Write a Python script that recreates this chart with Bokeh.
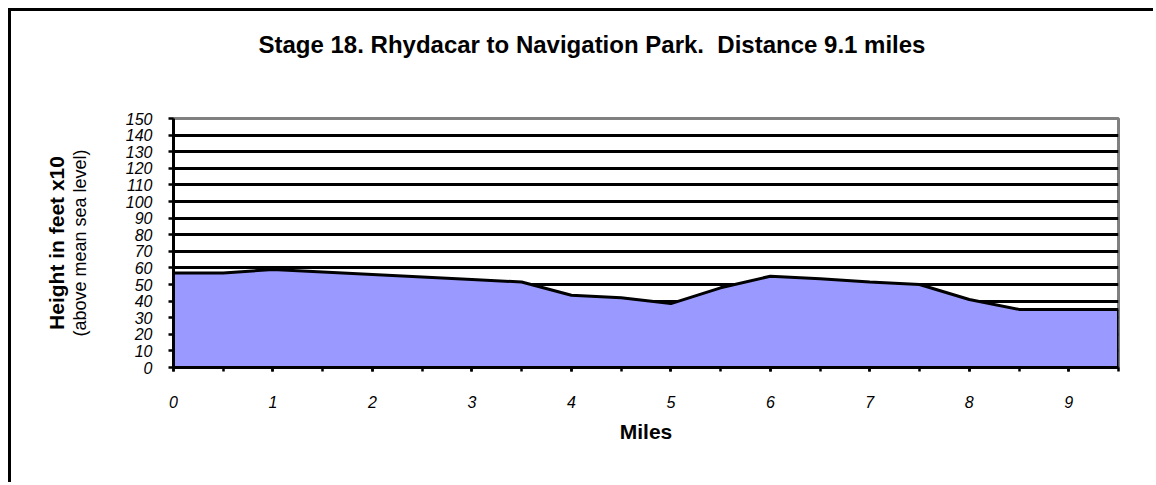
from bokeh.plotting import figure
from bokeh.models import Range1d, FixedTicker, LinearAxis
from bokeh.embed import file_html
from bokeh.resources import INLINE

# ---- data ----
title_text = "Stage 18. Rhydacar to Navigation Park.\u00a0 Distance 9.1 miles"
x_label = "Miles"
y_label_main = "Height in feet x10"
y_label_sub = "(above mean sea level)"

miles = [0, 0.5, 1, 1.5, 2, 2.5, 3, 3.5, 4, 4.5,
         5, 5.5, 6, 6.5, 7, 7.5, 8, 8.5, 9, 9.5]
heights = [57, 57, 59, 57.5, 56, 54.5, 53, 51.5, 43.5, 42,
           38.5, 48, 55, 53.5, 51.5, 50, 41, 35, 35, 35]

x_tick_values = [0, 1, 2, 3, 4, 5, 6, 7, 8, 9]
x_tick_labels = ["0", "1", "2", "3", "4", "5", "6", "7", "8", "9"]
y_tick_values = [0, 10, 20, 30, 40, 50, 60, 70, 80, 90, 100, 110, 120, 130, 140, 150]

FONT = "Liberation Sans"

p = figure(width=1145, height=474,
           x_range=Range1d(miles[0], miles[-1]), y_range=Range1d(y_tick_values[0], y_tick_values[-1]),
           output_backend="svg", toolbar_location=None,
           min_border_left=162, min_border_right=38, min_border_top=107, min_border_bottom=118)
p.styles = {"margin-left": "8px", "margin-top": "8px",
            "border-left": "3px solid black", "border-top": "3px solid black"}
p.background_fill_color = "white"
p.border_fill_color = "white"
p.outline_line_color = "#808080"
p.outline_line_width = 3

xa = p.below[0]
ya = p.left[0]

# spacer between the frame and the title (an invisible axis whose blank label takes room)
spacer = LinearAxis(ticker=FixedTicker(ticks=[]), axis_line_color=None,
                    major_tick_line_color=None, minor_tick_line_color=None,
                    major_tick_in=0, major_tick_out=0, minor_tick_in=0, minor_tick_out=0,
                    major_label_standoff=0,
                    axis_label="\u00a0", axis_label_text_font=FONT,
                    axis_label_text_font_size="47px", axis_label_text_alpha=0,
                    axis_label_standoff=0)
p.add_layout(spacer, "above")

# title
p.title.text = title_text
p.title.align = "left"
p.title.text_font = FONT
p.title.text_font_size = "24px"
p.title.text_font_style = "bold"
p.title.text_color = "black"
p.title.offset = 85
p.title.standoff = 10

# grid
p.xgrid.visible = False
p.ygrid.ticker = FixedTicker(ticks=y_tick_values[1:-1])
p.ygrid.grid_line_color = "black"
p.ygrid.grid_line_width = 3

# area + outline
p.varea(x=miles, y1=0, y2=heights, fill_color="#9999FF")
p.line(miles, heights, line_color="black", line_width=3)
p.segment(x0=[miles[-1]], y0=[0], x1=[miles[-1]], y1=[heights[-1]], line_color="black", line_width=3)

# x axis
xa.ticker = FixedTicker(ticks=x_tick_values, minor_ticks=miles)
xa.major_label_overrides = {v: s for v, s in zip(x_tick_values, x_tick_labels)}
xa.axis_line_color = "black"
xa.axis_line_width = 3
xa.major_tick_in = 0
xa.major_tick_out = 4
xa.minor_tick_in = 0
xa.minor_tick_out = 4
xa.major_tick_line_width = 2.5
xa.minor_tick_line_width = 2.5
xa.major_tick_line_color = "black"
xa.minor_tick_line_color = "black"
xa.major_label_text_font = FONT
xa.major_label_text_font_size = "16px"
xa.major_label_text_font_style = "italic"
xa.major_label_text_color = "black"
xa.major_label_standoff = 24
xa.axis_label = x_label
xa.axis_label_text_font = FONT
xa.axis_label_text_font_size = "21px"
xa.axis_label_text_font_style = "bold"
xa.axis_label_text_color = "black"
xa.axis_label_standoff = 9

# y axis
ya.ticker = FixedTicker(ticks=y_tick_values)
ya.axis_line_color = "black"
ya.axis_line_width = 3
ya.major_tick_in = 0
ya.major_tick_out = 5
ya.major_tick_line_width = 2.5
ya.major_tick_line_color = "black"
ya.minor_tick_line_color = None
ya.major_label_text_font = FONT
ya.major_label_text_font_size = "16px"
ya.major_label_text_font_style = "italic"
ya.major_label_text_color = "black"
ya.major_label_standoff = 16
ya.axis_label = y_label_sub
ya.axis_label_text_font = FONT
ya.axis_label_text_font_size = "18px"
ya.axis_label_text_font_style = "normal"
ya.axis_label_text_color = "black"
ya.axis_label_standoff = 33

# outer axis only carrying the bold y title
ya2 = LinearAxis(ticker=FixedTicker(ticks=[]), axis_line_color=None,
                 major_tick_line_color=None, minor_tick_line_color=None,
                 major_tick_in=0, major_tick_out=0, minor_tick_in=0, minor_tick_out=0,
                 major_label_standoff=0,
                 axis_label=y_label_main, axis_label_text_font=FONT,
                 axis_label_text_font_size="21px", axis_label_text_font_style="bold",
                 axis_label_text_color="black", axis_label_standoff=-1)
p.add_layout(ya2, "left")

open("out.html", "w").write(file_html(p, INLINE))
